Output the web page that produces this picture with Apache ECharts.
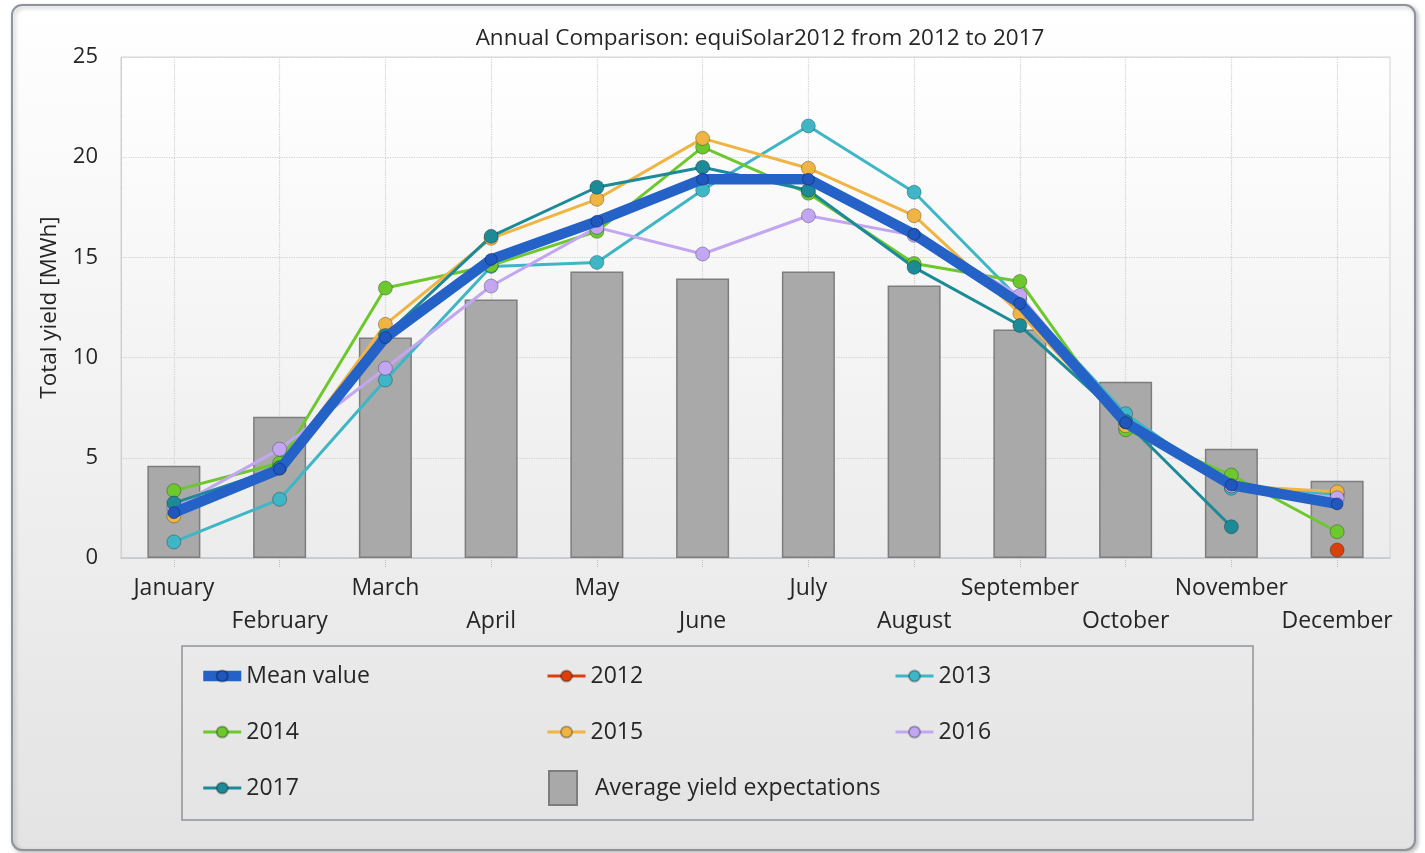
<!DOCTYPE html>
<html>
<head>
<meta charset="utf-8">
<script src="https://cdn.jsdelivr.net/npm/echarts@6/dist/echarts.min.js"></script>
<style>html,body{margin:0;padding:0;background:#fff;}#c{width:1425px;height:853px;}</style>
</head>
<body>
<div id="c"></div>
<script>
const months = ['January','February','March','April','May','June','July','August','September','October','November','December'];
const expected = [4.6, 7.05, 11.0, 12.9, 14.3, 13.95, 14.3, 13.6, 11.4, 8.8, 5.45, 3.85];
const meanValue = [2.26, 4.43, 11.0, 14.9, 16.8, 18.9, 18.9, 16.15, 12.7, 6.75, 3.64, 2.7];
const y2012 = [null, null, null, null, null, null, null, null, null, null, null, 0.4];
const y2013 = [0.8, 2.93, 8.88, 14.55, 14.75, 18.36, 21.56, 18.25, 12.9, 7.2, 3.48, 3.19];
const y2014 = [3.36, 4.74, 13.47, 14.6, 16.3, 20.5, 18.2, 14.7, 13.8, 6.4, 4.14, 1.31];
const y2015 = [2.1, 4.5, 11.66, 15.95, 17.9, 20.94, 19.45, 17.08, 12.2, 6.6, 3.6, 3.3];
const y2016 = [2.5, 5.43, 9.47, 13.57, 16.5, 15.17, 17.08, 16.1, 13.1, 6.8, 3.6, 3.0];
const y2017 = [2.74, 4.5, 11.1, 16.05, 18.5, 19.5, 18.35, 14.5, 11.6, 6.8, 1.56, null];
const yTicks = {min: 0, max: 25, interval: 5};

const FONT = 'Open Sans';
const TXT = '#262626';
const chart = echarts.init(document.getElementById('c'), null, {renderer: 'canvas'});

function yearSeries(name, data, color, z) {
  return {
    name: name, type: 'line', data: data, z: z,
    symbol: 'circle', symbolSize: 14, showSymbol: true,
    lineStyle: {color: color, width: 3},
    itemStyle: {color: color, borderColor: 'rgba(0,0,0,0.28)', borderWidth: 1},
    emphasis: {disabled: true}, animation: false
  };
}

const legendText = {fontFamily: FONT, fontSize: 23, color: TXT, lineHeight: 24};
function legendCol(left, names) {
  return {
    orient: 'vertical', left: left, top: 664, itemGap: 32, padding: 0,
    itemWidth: 38, itemHeight: 14, data: names, textStyle: legendText,
    lineStyle: {width: 'inherit'},
    selectedMode: false
  };
}

const option = {
  animation: false,
  textStyle: {fontFamily: FONT},
  graphic: [
    {type: 'rect', z: -20, shape: {x: 12, y: 5, width: 1403, height: 845, r: 10},
     style: {fill: new echarts.graphic.LinearGradient(0, 0, 0, 1, [{offset: 0, color: '#ffffff'}, {offset: 1, color: '#e3e3e3'}]),
             stroke: '#8e949b', lineWidth: 2, shadowBlur: 4, shadowOffsetX: 2, shadowOffsetY: 2, shadowColor: 'rgba(0,0,0,0.25)'}},
    {type: 'rect', z: 5, shape: {x: 182, y: 646, width: 1071, height: 174},
     style: {fill: 'none', stroke: '#8e949b', lineWidth: 1.5}}
  ],
  title: {
    text: 'Annual Comparison: equiSolar2012 from 2012 to 2017',
    left: 755, top: 22, textAlign: 'center',
    textStyle: {fontFamily: FONT, fontSize: 22.5, fontWeight: 'normal', color: TXT}
  },
  legend: [
    legendCol(198, ['Mean value', '2014', '2017']),
    legendCol(546, ['2012', '2015']),
    legendCol(894, ['2013', '2016']),
    {orient: 'vertical', left: 548, top: 770, padding: 0, itemWidth: 28, itemHeight: 34,
     data: [{name: 'Average yield expectations', icon: 'rect'}],
     textStyle: Object.assign({}, legendText, {padding: [0, 0, 0, 13]}), selectedMode: false}
  ],
  grid: {
    left: 121, right: 35, top: 57, bottom: 295, show: true,
    backgroundColor: new echarts.graphic.LinearGradient(0, 0, 0, 1, [{offset: 0, color: '#ffffff'}, {offset: 1, color: '#ececec'}]),
    borderColor: '#cfd3d8', borderWidth: 1
  },
  xAxis: {
    type: 'category', data: months, boundaryGap: true,
    axisLine: {show: true, lineStyle: {color: '#c4c8cc', width: 1.5}},
    axisTick: {show: true, alignWithLabel: true, length: 9, lineStyle: {color: '#bdbdbd', type: 'dotted'}},
    splitLine: {show: true, alignWithLabel: true, lineStyle: {color: '#cfcfcf', type: 'dotted', width: 1.2}},
    axisLabel: {
      interval: 0, margin: 14, fontFamily: FONT, fontSize: 23, color: TXT, lineHeight: 33,
      formatter: function (v, i) { return i % 2 === 1 ? '\n' + v : v; }
    }
  },
  yAxis: {
    type: 'value', min: yTicks.min, max: yTicks.max, interval: yTicks.interval,
    name: 'Total yield [MWh]', nameLocation: 'middle', nameGap: 60, nameRotate: 90,
    nameTextStyle: {fontFamily: FONT, fontSize: 22.5, color: TXT},
    axisLine: {show: true, lineStyle: {color: '#cfcfcf', type: 'dotted', width: 1.2}},
    axisTick: {show: false},
    splitLine: {show: true, lineStyle: {color: '#cfcfcf', type: 'dotted', width: 1.2}},
    axisLabel: {margin: 23, fontFamily: FONT, fontSize: 22, color: TXT}
  },
  series: [
    {name: 'Average yield expectations', type: 'bar', data: expected, barWidth: 53, z: 2,
     itemStyle: {color: '#a9a9a9', borderColor: '#7d7d7d', borderWidth: 1.5}, emphasis: {disabled: true}},
    yearSeries('2012', y2012, '#d9400c', 3),
    yearSeries('2013', y2013, '#3eb6c6', 3),
    yearSeries('2014', y2014, '#6cc82c', 3),
    yearSeries('2015', y2015, '#f0b443', 3),
    yearSeries('2016', y2016, '#c2a6f2', 3),
    yearSeries('2017', y2017, '#1d8a98', 3),
    {name: 'Mean value', type: 'line', data: meanValue, z: 4,
     symbol: 'circle', symbolSize: 12,
     lineStyle: {color: '#2462c8', width: 10.5},
     itemStyle: {color: '#1f57bf', borderColor: 'rgba(0,0,0,0.3)', borderWidth: 1},
     emphasis: {disabled: true}}
  ]
};
chart.setOption(option);
</script>
</body>
</html>
